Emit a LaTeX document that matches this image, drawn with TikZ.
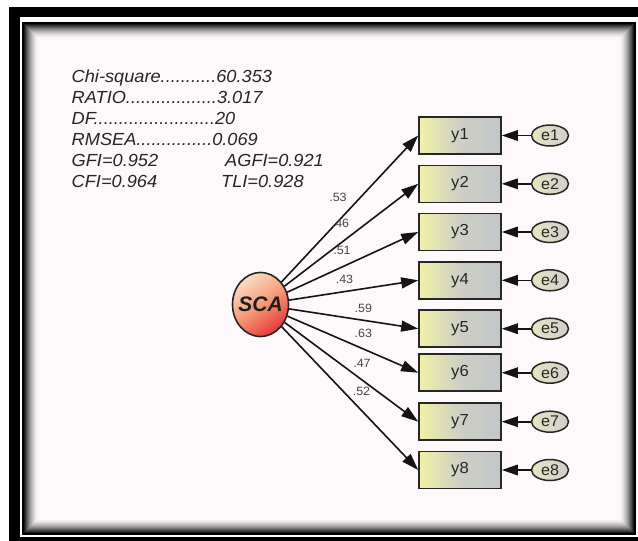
\documentclass[tikz,border=0pt]{standalone}
\usepackage{fontspec}
\setmainfont{Liberation Sans}
\newfontfamily\statfont[FakeStretch=1.04]{Liberation Sans}
\usetikzlibrary{arrows.meta,shapes.geometric}

\definecolor{pagebg}{HTML}{FDF8F9}
\definecolor{boxyellow}{HTML}{F2F0A8}
\definecolor{boxgray}{HTML}{C3C6CB}
\definecolor{errleft}{HTML}{E6E5C2}
\definecolor{errright}{HTML}{CFCFCC}
\definecolor{latpeach}{HTML}{FCDDC4}
\definecolor{latorange}{HTML}{F59A78}
\definecolor{latred}{HTML}{E53838}
\definecolor{inkgray}{HTML}{262626}

\tikzset{
  stat/.style={font=\statfont\itshape\fontsize{17.5}{19}\selectfont, inner sep=0pt, text=inkgray, anchor=base west},
  latent/.style={ellipse, draw=inkgray, line width=1.6pt, minimum width=56pt, minimum height=64pt,
    inner xsep=-4pt, inner ysep=0pt,
    top color=latpeach, bottom color=latred, middle color=latorange, shading angle=35,
    font=\bfseries\itshape\fontsize{21}{21}\selectfont, text=black!88},
  observed/.style={draw=inkgray, line width=1.6pt, minimum width=82pt, minimum height=37pt, inner sep=0pt,
    left color=boxyellow, right color=boxgray, middle color=boxgray!78!boxyellow,
    font=\statfont\fontsize{16}{16}\selectfont, text=inkgray},
  errvar/.style={ellipse, draw=inkgray, line width=1.5pt, minimum width=37pt, minimum height=21pt, inner sep=0pt,
    left color=errleft, right color=errright,
    font=\statfont\fontsize{15.5}{15.5}\selectfont, text=inkgray},
  coef/.style={font=\statfont\fontsize{12}{12}\selectfont, text=black!72, inner sep=0pt},
  loading/.style={-{Triangle[length=17pt,width=11pt]}, line width=1.6pt, draw=black!92},
  errpath/.style={-{Triangle[length=16pt,width=10.5pt]}, line width=1.6pt, draw=black!92}
}

\begin{document}
\begin{tikzpicture}[x=1pt,y=-1pt]
\useasboundingbox (0,0) rectangle (638,541);
\fill[white] (0,0) rectangle (638,541);

% picture frame: heavy outer band, thin inner rule and a soft inner shadow
\begin{scope}
  \clip (0,0) rectangle (638,541);
  \draw[line width=10.5pt] (14.5,12) rectangle (643.5,542.5);
  \fill[pagebg] (23,23) rectangle (635,534);
  \foreach \i in {0,...,13} {
    \pgfmathtruncatemacro\shade{90*(1-\i/14)^1.6}
    \draw[line width=1.05pt, black!\shade!pagebg] (24.5+\i,24.5+\i) rectangle (633.5-\i,532.5-\i);
  }
  \draw[line width=2.4pt] (23,23) rectangle (635,534);
\end{scope}

% fit statistics
\node[stat] (chi)   at (71.5,82)    {Chi-square...........60.353};
\node[stat] (ratio) at (71.5,103)   {RATIO..................3.017};
\node[stat] (df)    at (71.5,124.5) {DF........................20};
\node[stat] (rmsea) at (71.5,145.5) {RMSEA...............0.069};
\node[stat] (gfi)   at (71.5,166.5) {GFI=0.952};
\node[stat] (agfi)  at (225,166.5)  {AGFI=0.921};
\node[stat] (cfi)   at (71.5,187.5) {CFI=0.964};
\node[stat] (tli)   at (221,187.5)  {TLI=0.928};

% latent factor
\node[latent] (SCA) at (260.5,304.5) {SCA};

% indicators and their error terms
\foreach \k/\yy in {1/135.5, 2/183.8, 3/232, 4/280.3, 5/328.7, 6/372.7, 7/421.7, 8/470} {
  \node[observed] (y\k) at (460,\yy) {y\k};
  \node[errvar] (e\k) at (550,\yy) {e\k};
  \draw[loading] (SCA) -- (y\k.west);
  \draw[errpath] (e\k) -- (y\k);
}

% standardized loadings
\node[coef] (l1) at (338,197.5) {.53};
\node[coef] (l2) at (340.5,223.5) {.46};
\node[coef] (l3) at (342,250) {.51};
\node[coef] (l4) at (344.5,279.5) {.43};
\node[coef] (l5) at (363.3,308.5) {.59};
\node[coef] (l6) at (363.3,333.7) {.63};
\node[coef] (l7) at (362,363.3) {.47};
\node[coef] (l8) at (361.5,391) {.52};
\end{tikzpicture}
\end{document}
